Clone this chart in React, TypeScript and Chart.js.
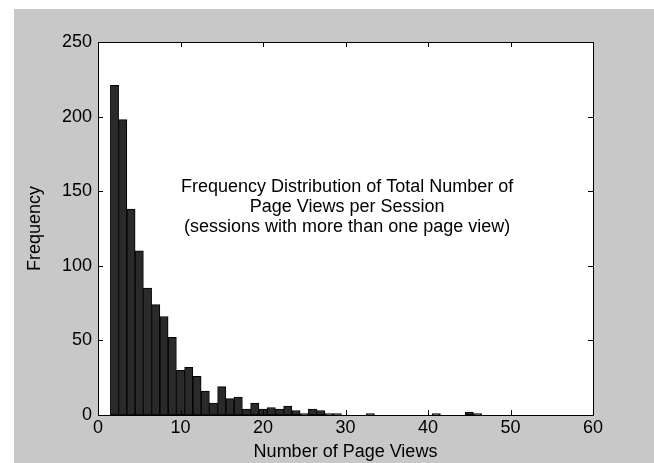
import React, { useEffect, useRef } from "react";
import { Chart, registerables } from "chart.js";

Chart.register(...registerables);

// Number of page views per session (bin centers)
const pageViews: number[] = [
  2, 3, 4, 5, 6, 7, 8, 9, 10, 11, 12, 13, 14, 15, 16, 17, 18, 19, 20, 21, 22, 23,
  24, 25, 26, 27, 28, 29, 30, 31, 32, 33, 34, 35, 36, 37, 38, 39, 40, 41, 42, 43,
  44, 45, 46,
];
// Frequency per bin
const frequency: number[] = [
  221, 198, 138, 110, 85, 74, 66, 52, 30, 32, 26, 16, 8, 19, 11, 12, 4, 8, 4, 5, 4, 6,
  3, 1, 4, 3, 1, 1, 0, 0, 0, 1, 0, 0, 0, 0, 0, 0, 0, 1, 0, 0,
  0, 2, 1,
];
const xTicks: number[] = [0, 10, 20, 30, 40, 50, 60];
const yTicks: number[] = [0, 50, 100, 150, 200, 250];
const annotationLines: string[] = [
  "Frequency Distribution of Total Number of",
  "Page Views per Session",
  "(sessions with more than one page view)",
];

const FONT = "'Liberation Sans', Arial, Helvetica, sans-serif";

const framePlugin = {
  id: "matlabFrame",
  beforeDraw(chart: any) {
    const { ctx, chartArea: a } = chart;
    ctx.save();
    ctx.fillStyle = "#ffffff";
    ctx.fillRect(a.left, a.top, a.right - a.left, a.bottom - a.top);
    ctx.restore();
  },
  afterDatasetsDraw(chart: any) {
    const { ctx, chartArea: a, scales } = chart;
    const xs = scales.x;
    const ys = scales.y;
    const tl = 5;
    ctx.save();
    ctx.strokeStyle = "#000000";
    ctx.lineWidth = 1;
    ctx.beginPath();
    for (const v of xTicks) {
      const px = Math.round(xs.getPixelForValue(v)) + 0.5;
      ctx.moveTo(px, a.bottom);
      ctx.lineTo(px, a.bottom - tl);
      ctx.moveTo(px, a.top);
      ctx.lineTo(px, a.top + tl);
    }
    for (const v of yTicks) {
      const py = Math.round(ys.getPixelForValue(v)) + 0.5;
      ctx.moveTo(a.left, py);
      ctx.lineTo(a.left + tl, py);
      ctx.moveTo(a.right, py);
      ctx.lineTo(a.right - tl, py);
    }
    ctx.stroke();
    ctx.strokeRect(
      Math.round(a.left) + 0.5,
      Math.round(a.top) + 0.5,
      Math.round(a.right - a.left),
      Math.round(a.bottom - a.top)
    );
    // annotation text
    ctx.fillStyle = "#000000";
    ctx.font = `18px ${FONT}`;
    ctx.textAlign = "center";
    ctx.textBaseline = "middle";
    const cx = xs.getPixelForValue(30.2);
    const cy = ys.getPixelForValue(152.5);
    annotationLines.forEach((t, i) => ctx.fillText(t, cx, cy + i * 20));
    ctx.restore();
  },
};

export default function App() {
  const ref = useRef<HTMLCanvasElement | null>(null);

  useEffect(() => {
    if (!ref.current) return;
    const chart = new Chart(ref.current, {
      type: "bar",
      data: {
        datasets: [
          {
            data: pageViews.map((x, i) => ({ x, y: frequency[i] === 0 ? null : frequency[i] })) as any,
            backgroundColor: "#2a2a2a",
            borderColor: "#000000",
            borderWidth: 1,
            borderSkipped: false,
            barPercentage: 1,
            categoryPercentage: 1,
          },
        ],
      },
      options: {
        animation: false,
        responsive: false,
        maintainAspectRatio: false,
        devicePixelRatio: 1,
        layout: { padding: { top: 33, right: 61, left: 0, bottom: 0 } },
        plugins: {
          legend: { display: false },
          tooltip: { enabled: false },
          title: { display: false },
        },
        scales: {
          x: {
            type: "linear",
            min: 0,
            max: 60,
            offset: false,
            grid: { display: false, drawTicks: false },
            border: { display: false },
            afterFit: (s: any) => {
              s.height = 48;
            },
            afterBuildTicks: (s: any) => {
              s.ticks = xTicks.map((v) => ({ value: v }));
            },
            ticks: {
              color: "#000",
              padding: 2,
              maxRotation: 0,
              autoSkip: false,
              font: { family: FONT, size: 18 },
            },
            title: {
              display: true,
              text: "Number of Page Views",
              color: "#000",
              padding: { top: 0, bottom: 0 },
              font: { family: FONT, size: 18 },
            },
          },
          y: {
            min: 0,
            max: 250,
            grid: { display: false, drawTicks: false },
            border: { display: false },
            afterFit: (s: any) => {
              s.width = 84;
            },
            afterBuildTicks: (s: any) => {
              s.ticks = yTicks.map((v) => ({ value: v }));
            },
            ticks: {
              color: "#000",
              padding: 6,
              autoSkip: false,
              font: { family: FONT, size: 18 },
            },
            title: {
              display: true,
              text: "Frequency",
              color: "#000",
              padding: { top: 10, bottom: 0 },
              font: { family: FONT, size: 18 },
            },
          },
        },
      },
      plugins: [framePlugin],
    });
    return () => chart.destroy();
  }, []);

  return (
    <div
      style={{
        position: "absolute",
        left: 0,
        top: 0,
        width: 654,
        height: 463,
        background: "#ffffff",
        overflow: "hidden",
      }}
    >
      <div
        style={{
          position: "absolute",
          left: 14,
          top: 9,
          width: 640,
          height: 454,
          background: "#c8c8c8",
        }}
      >
        <canvas ref={ref} width={640} height={454} style={{ display: "block", width: 640, height: 454 }} />
      </div>
    </div>
  );
}
